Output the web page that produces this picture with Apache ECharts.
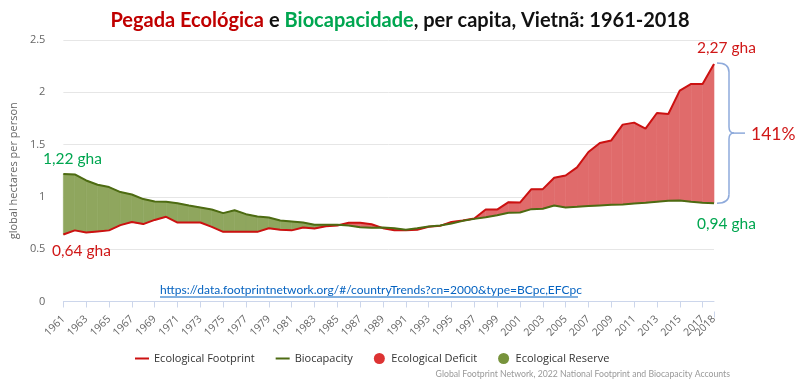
<!DOCTYPE html>
<html>
<head>
<meta charset="utf-8">
<script src="https://cdn.jsdelivr.net/npm/echarts@6/dist/echarts.min.js"></script>
<style>html,body{margin:0;padding:0;background:#fff}#c{width:800px;height:385px}</style>
</head>
<body>
<div id="c"></div>
<script>
const years = ['1961','1962','1963','1964','1965','1966','1967','1968','1969','1970',
'1971','1972','1973','1974','1975','1976','1977','1978','1979','1980',
'1981','1982','1983','1984','1985','1986','1987','1988','1989','1990',
'1991','1992','1993','1994','1995','1996','1997','1998','1999','2000',
'2001','2002','2003','2004','2005','2006','2007','2008','2009','2010',
'2011','2012','2013','2014','2015','2016','2017','2018'];
const footprint = [0.64,0.68,0.66,0.67,0.68,0.73,0.76,0.74,0.78,0.81,
0.755,0.755,0.755,0.714,0.666,0.666,0.666,0.666,0.70,0.685,
0.68,0.707,0.697,0.72,0.726,0.752,0.752,0.739,0.701,0.682,
0.682,0.685,0.714,0.723,0.761,0.774,0.793,0.879,0.879,0.95,
0.946,1.074,1.074,1.183,1.205,1.282,1.429,1.515,1.54,1.691,
1.71,1.652,1.802,1.793,2.016,2.08,2.08,2.27];
const biocapacity = [1.22,1.215,1.157,1.116,1.094,1.046,1.023,0.979,0.956,0.953,
0.94,0.918,0.899,0.879,0.845,0.873,0.835,0.812,0.803,0.774,
0.765,0.755,0.733,0.733,0.733,0.726,0.71,0.704,0.707,0.70,
0.685,0.70,0.717,0.726,0.745,0.771,0.79,0.806,0.825,0.848,
0.851,0.883,0.886,0.918,0.899,0.905,0.912,0.918,0.924,0.927,
0.937,0.943,0.953,0.963,0.966,0.953,0.943,0.94];
const yTicks = ['0','0.5','1','1.5','2','2.5'];

const RED_LINE = '#cc1111', GREEN_LINE = '#4d6b12';
const RED_FILL = '#e06b6b', GREEN_FILL = '#8fa65e';
const RED_DOT = '#dd3333', GREEN_DOT = '#77933c';

const segIdx = years.slice(0, -1).map((y, i) => [i, footprint[i]]);

function areaRenderer(sign, color) {
  return function (params, api) {
    const i = api.value(0);
    const a0 = api.coord([i, footprint[i]]), b0 = api.coord([i, biocapacity[i]]);
    const a1 = api.coord([i + 1, footprint[i + 1]]), b1 = api.coord([i + 1, biocapacity[i + 1]]);
    const d0 = (footprint[i] - biocapacity[i]) * sign;
    const d1 = (footprint[i + 1] - biocapacity[i + 1]) * sign;
    let pts;
    if (d0 >= 0 && d1 >= 0) pts = [a0, a1, b1, b0];
    else if (d0 <= 0 && d1 <= 0) return null;
    else {
      const t = d0 / (d0 - d1);
      const p = [a0[0] + (a1[0] - a0[0]) * t, a0[1] + (a1[1] - a0[1]) * t];
      pts = d0 > 0 ? [a0, p, b0] : [p, a1, b1];
    }
    return { type: 'polygon', shape: { points: pts }, style: { fill: color, stroke: color, lineWidth: 0.6 } };
  };
}

const chart = echarts.init(document.getElementById('c'), null, { renderer: 'canvas' });
const labelFont = '"Open Sans", sans-serif';
const noteFont = 'Lato, "Open Sans", sans-serif';
const lineIcon = 'path://M0,0H14V2H0Z';
const lastIdx = years.length - 1;
const evenTick = (i) => i % 2 === 0;
const lastTick = (i) => i === lastIdx;
const xLabel = { rotate: 45, color: '#666', fontSize: 10.5, fontFamily: labelFont, margin: 6 };

chart.setOption({
  animation: false,
  title: {
    left: 'center', top: 6,
    text: '{r|Pegada Ecológica} {k|e} {g|Biocapacidade}{k|, per capita, Vietnã: 1961-2018}',
    textStyle: {
      rich: {
        r: { color: '#c00000', fontSize: 20, fontWeight: 'bold', fontFamily: noteFont },
        g: { color: '#00a650', fontSize: 20, fontWeight: 'bold', fontFamily: noteFont },
        k: { color: '#111', fontSize: 20, fontWeight: 'bold', fontFamily: noteFont }
      }
    }
  },
  grid: { left: 62, right: 86, top: 40, bottom: 83.5 },
  legend: {
    left: 130, top: 348, itemWidth: 14, itemHeight: 11, itemGap: 21,
    textStyle: { color: '#333', fontSize: 11, fontFamily: labelFont },
    data: [
      { name: 'Ecological Footprint', icon: lineIcon, itemStyle: { color: RED_LINE } },
      { name: 'Biocapacity', icon: lineIcon, itemStyle: { color: GREEN_LINE } },
      { name: 'Ecological Deficit', icon: 'circle', itemStyle: { color: RED_DOT } },
      { name: 'Ecological Reserve', icon: 'circle', itemStyle: { color: GREEN_DOT } }
    ]
  },
  xAxis: [{
    type: 'category', data: years, boundaryGap: false, offset: 10,
    axisLine: { lineStyle: { color: '#ccd6eb' } },
    axisTick: { interval: evenTick, length: 6, lineStyle: { color: '#ccd6eb' } },
    axisLabel: Object.assign({ interval: evenTick }, xLabel)
  }, {
    type: 'category', data: years, boundaryGap: false, offset: 10, position: 'bottom',
    axisLine: { show: false },
    axisTick: { interval: lastTick, length: 6, lineStyle: { color: '#ccd6eb' } },
    axisLabel: Object.assign({ interval: lastTick }, xLabel),
    splitLine: { show: false }
  }],
  yAxis: {
    type: 'value', min: 0, max: 2.5, interval: 0.5,
    name: 'global hectares per person', nameLocation: 'middle', nameGap: 33,
    nameTextStyle: { color: '#666', fontSize: 11, fontFamily: labelFont },
    axisLabel: { color: '#666', fontSize: 11, fontFamily: labelFont, margin: 18,
      formatter: (v) => yTicks[Math.round(v / 0.5)] },
    splitLine: { lineStyle: { color: '#e6e6e6' } },
    axisLine: { show: false }, axisTick: { show: false }
  },
  series: [
    { name: 'Ecological Deficit', type: 'custom', data: segIdx, encode: { x: 0, y: 1 },
      renderItem: areaRenderer(1, RED_FILL), itemStyle: { color: RED_DOT }, z: 1, silent: true },
    { name: 'Ecological Reserve', type: 'custom', data: segIdx, encode: { x: 0, y: 1 },
      renderItem: areaRenderer(-1, GREEN_FILL), itemStyle: { color: GREEN_DOT }, z: 1, silent: true },
    { name: 'Ecological Footprint', type: 'line', data: footprint, symbol: 'none', z: 3,
      lineStyle: { color: RED_LINE, width: 2 }, itemStyle: { color: RED_LINE } },
    { name: 'Biocapacity', type: 'line', data: biocapacity, symbol: 'none', z: 3,
      lineStyle: { color: GREEN_LINE, width: 2 }, itemStyle: { color: GREEN_LINE } }
  ]
});

const pTop = chart.convertToPixel({ xAxisIndex: 0, yAxisIndex: 0 }, [lastIdx, footprint[lastIdx]]);
const pBot = chart.convertToPixel({ xAxisIndex: 0, yAxisIndex: 0 }, [lastIdx, biocapacity[lastIdx]]);
const bx = pTop[0] + 3, vx = bx + 12, y0 = pTop[1] - 1, y1 = pBot[1], ym = (y0 + y1) / 2;
const braceStyle = { stroke: '#8eaadb', lineWidth: 1.5, fill: null };
const braceParts = [
  { type: 'bezierCurve', shape: { x1: bx, y1: y0, x2: vx, y2: y0 + 9, cpx1: vx, cpy1: y0 } },
  { type: 'line', shape: { x1: vx, y1: y0 + 9, x2: vx, y2: ym - 6 } },
  { type: 'bezierCurve', shape: { x1: vx, y1: ym - 6, x2: vx + 5, y2: ym, cpx1: vx, cpy1: ym } },
  { type: 'bezierCurve', shape: { x1: vx + 5, y1: ym, x2: vx, y2: ym + 6, cpx1: vx, cpy1: ym } },
  { type: 'line', shape: { x1: vx, y1: ym + 6, x2: vx, y2: y1 - 9 } },
  { type: 'bezierCurve', shape: { x1: vx, y1: y1 - 9, x2: bx, y2: y1, cpx1: vx, cpy1: y1 } },
  { type: 'line', shape: { x1: vx + 5, y1: ym, x2: vx + 16, y2: ym } }
].map(p => Object.assign(p, { style: braceStyle, z: 10, silent: true }));

const note = (text, x, y, color, size) => ({ type: 'text', x, y, z: 10,
  style: { text, fill: color, font: size + 'px ' + noteFont, textVerticalAlign: 'middle' } });

chart.setOption({
  graphic: braceParts.concat([
    note('141%', 751, ym + 1, '#d01818', 17.5),
    note('2,27 gha', 697, 48, '#d01818', 15.5),
    note('0,94 gha', 697, 224, '#00a650', 15.5),
    note('1,22 gha', 43, 159, '#00a650', 15.5),
    note('0,64 gha', 52, 251, '#d01818', 15.5),
    { type: 'text', x: 160, y: 290, z: 10, style: { text: 'https://data.footprintnetwork.org/#/countryTrends?cn=2000&type=BCpc,EFCpc', fill: '#0563c1', font: '12px ' + noteFont, textVerticalAlign: 'middle' } },
    { type: 'line', shape: { x1: 160, y1: 297, x2: 578, y2: 297 }, style: { stroke: '#0563c1', lineWidth: 1 }, z: 10 },
    { type: 'text', right: 70, top: 370, z: 10, style: { text: 'Global Footprint Network, 2022 National Footprint and Biocapacity Accounts', fill: '#999', font: '8.7px ' + noteFont } }
  ])
});
</script>
</body>
</html>
